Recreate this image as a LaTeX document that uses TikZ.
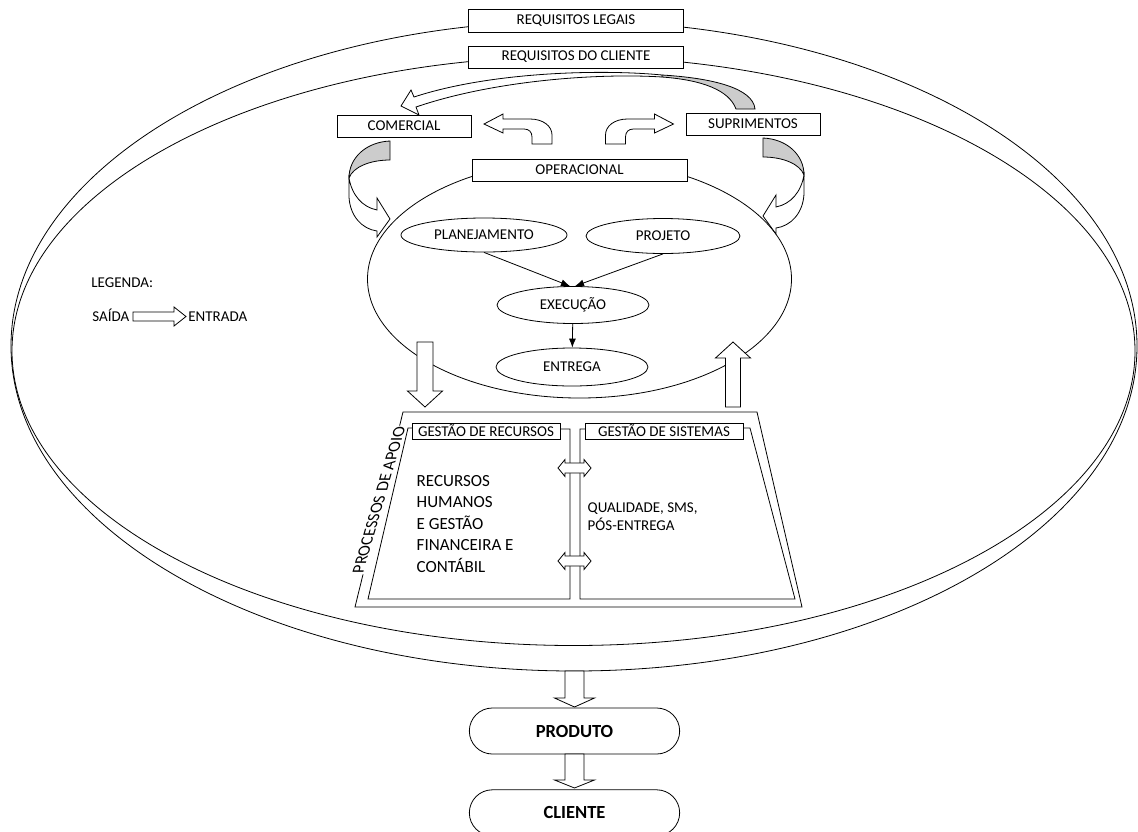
\documentclass[tikz,border=0pt]{standalone}
\usepackage{fontspec}
\setmainfont{Carlito}
\usepackage{tikz}
\usetikzlibrary{shapes, arrows, arrows.meta, positioning}
\newcommand{\rotulo}{\fontsize{15}{18}\selectfont}
\newcommand{\grande}{\fontsize{17}{21.5}\selectfont}
\newcommand{\forte}{\fontsize{18.5}{22}\selectfont\bfseries}
\tikzstyle{caixa} = [draw, fill=white, rectangle, inner sep=0pt, minimum width=215pt, minimum height=23pt, font=\rotulo]
\tikzstyle{caixinha} = [caixa, minimum width=134pt, minimum height=22pt]
\tikzstyle{oval} = [draw, fill=white, ellipse, inner sep=0pt, font=\rotulo]
\tikzstyle{ambiente} = [draw, ellipse, inner sep=0pt]
\tikzstyle{terminal} = [draw, rounded rectangle, minimum width=217pt, minimum height=46pt, font=\forte]
\tikzstyle{setabloco} = [draw, fill=white, line join=miter]
\tikzstyle{sombra} = [draw, fill=gray!40, line join=miter]
\tikzstyle{fluxo} = [-{Latex[length=9pt, width=7pt]}]
\tikzstyle{legendas} = [anchor=base west, font=\rotulo, inner sep=0pt]
% seta reta: x, cauda, base da ponta, ponta, meia haste, meia ponta
\newcommand{\setavert}[6]{\draw[setabloco] (#1-#5,#2) -- (#1+#5,#2) -- (#1+#5,#3) -- (#1+#6,#3) -- (#1,#4) -- (#1-#6,#3) -- (#1-#5,#3) -- cycle;}
\newcommand{\setadupla}[1]{\draw[setabloco] (558,#1) -- (565,#1-8.5) -- (565,#1-5) -- (584,#1-5) -- (584,#1-8.5) -- (591,#1) -- (584,#1+8.5) -- (584,#1+5) -- (565,#1+5) -- (565,#1+8.5) -- cycle;}
\newcommand{\setadobrada}{\draw[setabloco] (532,144) -- (532,137) .. controls (532,132) and (529,129) .. (524,129) -- (503,129) -- (503,133) -- (484,124) -- (503,114) -- (503,119) -- (530,119) .. controls (543,119) and (552,126) .. (552,135) -- (552,144) -- cycle;}
\newcommand{\setalateral}{%
	\draw[sombra] (390,141) .. controls (366,142) and (349,158) .. (349,178) .. controls (353,167) and (370,160) .. (390,160) -- cycle;
	\draw[setabloco] (349,178) -- (349,197) .. controls (350,216) and (362,229) .. (377,231) -- (377,237) -- (390,219) -- (377,198) -- (377,210) .. controls (362,207) and (352,195) .. (349,178) -- cycle;}

\begin{document}
\begin{tikzpicture}[x=1pt, y=-1pt, line width=0.8pt]
	\useasboundingbox (0,0) rectangle (1138,831);
	\node[ambiente, minimum width=1126pt, minimum height=650pt] (elegais) at (574,346) {};
	\node[ambiente, minimum width=1123pt, minimum height=589pt] (ecliente) at (573.5,351) {};
	\node[ambiente, minimum width=424pt, minimum height=238pt] (eoper) at (579.5,279) {};
	\node[caixa] (legais) at (576,21) {REQUISITOS LEGAIS};
	\node[caixa, minimum height=22pt] (reqcliente) at (576,57) {REQUISITOS DO CLIENTE};
	\node[caixinha] (comercial) at (404,126) {COMERCIAL};
	\node[caixinha] (suprimentos) at (753,124) {SUPRIMENTOS};
	\node[caixa, minimum height=22pt] (operacional) at (579.5,170) {OPERACIONAL};
	% setas curvas
	\draw[sombra] (736,109) .. controls (729,90) and (702,80) .. (662,77) -- (662,75) .. controls (712,78) and (753,88) .. (755,109) -- cycle;
	\draw[setabloco] (662,75) .. controls (600,69) and (490,72) .. (414,97) -- (411,90) -- (401,106) -- (419,115) -- (416,107) .. controls (495,80) and (600,73) .. (662,77) -- cycle;
	\setadobrada
	\begin{scope}[xshift=1157.5pt, xscale=-1]
		\setadobrada
	\end{scope}
	\setalateral
	\begin{scope}[xshift=1153pt, yshift=3pt, xscale=-1]
		\setalateral
	\end{scope}
	% operacional
	\node[oval, minimum width=166pt, minimum height=34pt] (planejamento) at (484,235) {PLANEJAMENTO};
	\node[oval, minimum width=154pt, minimum height=35pt] (projeto) at (663,236) {PROJETO};
	\node[oval, minimum width=152pt, minimum height=37pt] (execucao) at (573,305) {EXECUÇÃO};
	\node[oval, minimum width=152pt, minimum height=38pt] (entrega) at (572,367) {ENTREGA};
	\draw[fluxo] (planejamento.south) -- ([xshift=-3pt]execucao.north);
	\draw[fluxo] (projeto.south) -- ([xshift=2pt]execucao.north);
	\draw[fluxo] (execucao) -- (entrega);
	\setavert{425}{342}{391}{407}{8}{17.5}
	\setavert{733}{407}{358}{342}{7.5}{17.5}
	% processos de apoio
	\draw (403,412) -- (757,412) -- (802,607) -- (355,607) -- cycle;
	\draw (412,428) -- (408,428) -- (368,599) -- (570,599) -- (570,429) -- (560,429);
	\draw (585,429) -- (580,429) -- (580,599) -- (795,599) -- (750,428) -- (743,428);
	\node[caixa, minimum width=148pt, minimum height=16pt] (grecursos) at (486,431) {GESTÃO DE RECURSOS};
	\node[caixa, minimum width=158pt, minimum height=16pt] (gsistemas) at (664,431) {GESTÃO DE SISTEMAS};
	\setadupla{468}
	\setadupla{561}
	\node[fill=white, inner sep=1pt, font=\grande, cm={0.28,0.96,-1,0,(0,0)}] (apoio) at (379,500) {PROCESSOS DE APOIO};
	\node[anchor=west, align=left, font=\grande] (recursos) at (413,524) {RECURSOS\\HUMANOS\\E GESTÃO\\FINANCEIRA E\\CONTÁBIL};
	\node[anchor=west, align=left, font=\rotulo] (sistemas) at (584,517) {QUALIDADE, SMS,\\PÓS-ENTREGA};
	% legenda
	\node[legendas] (legenda) at (91,287) {LEGENDA:};
	\node[legendas] (saida) at (92,321) {SAÍDA};
	\node[legendas] (entrada) at (188,321) {ENTRADA};
	\draw[setabloco] (133,312) -- (174,312) -- (174,307) -- (186,316.5) -- (174,326) -- (174,321) -- (133,321) -- cycle;
	% saida final
	\node[terminal] (produto) at (574.5,731) {PRODUTO};
	\node[terminal, below=35pt of produto] (cliente) {CLIENTE};
	\setavert{574.5}{671}{698}{707}{9.5}{20}
	\setavert{574.5}{754}{780}{788}{9.5}{20}
\end{tikzpicture}
\end{document}
